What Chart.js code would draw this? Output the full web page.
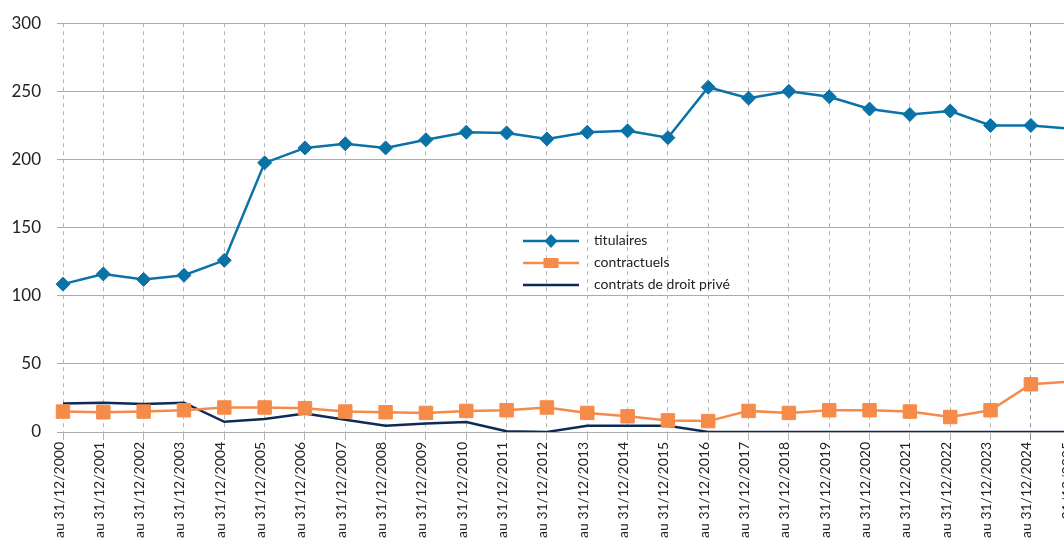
<!DOCTYPE html>
<html><head><meta charset="utf-8">
<script src="https://cdn.jsdelivr.net/npm/chart.js@4.4.1/dist/chart.umd.min.js"></script>
<style>
html,body{margin:0;padding:0;overflow:hidden;background:#fff;width:1064px;height:540px}
#wrap{width:1090px;height:543px;position:relative;margin-top:-3px}
</style>
</head><body><div id="wrap"><canvas id="c" width="1090" height="543"></canvas></div>
<script>
const categories = ["au 31/12/2000","au 31/12/2001","au 31/12/2002","au 31/12/2003","au 31/12/2004","au 31/12/2005","au 31/12/2006","au 31/12/2007","au 31/12/2008","au 31/12/2009","au 31/12/2010","au 31/12/2011","au 31/12/2012","au 31/12/2013","au 31/12/2014","au 31/12/2015","au 31/12/2016","au 31/12/2017","au 31/12/2018","au 31/12/2019","au 31/12/2020","au 31/12/2021","au 31/12/2022","au 31/12/2023","au 31/12/2024","au 31/12/2025"];
const titulaires   = [108.5,116,112,115,126,197.5,208.5,211.5,208.5,214.5,220,219.5,215,220,221,216,253,245,250,246,237,233,235.5,225,225,222.5];
const contractuels = [15,14.5,15,16,18,18,17.5,15,14.5,14,15.5,16,18,14,11.5,8.5,8,15.5,14,16,16,15,11,16,35,37];
const droitPrive   = [21,21.5,20.5,21.5,7.5,9.5,13.5,9,4.6,6.3,7.3,0.5,0,4.6,4.6,4.6,0,0,0,0,0,0,0,0,0,0];
const yTickValues  = [0,50,100,150,200,250,300];
const seriesNames  = ["titulaires","contractuels","contrats de droit privé"];

const FONT = "Lato, 'Noto Sans', sans-serif";
const C_BLUE = "#0a72a6", C_ORANGE = "#f68b49", C_NAVY = "#0d2b55";

const legendPlugin = {
  id: 'insideLegend',
  afterDraw(chart) {
    const ctx = chart.ctx;
    const x0 = 523, y0 = 244, row = 22, len = 56;
    chart.data.datasets.forEach((ds, i) => {
      const y = y0 + i * row;
      ctx.save();
      ctx.strokeStyle = ds.borderColor;
      ctx.lineWidth = ds.borderWidth;
      ctx.beginPath(); ctx.moveTo(x0, y); ctx.lineTo(x0 + len, y); ctx.stroke();
      ctx.fillStyle = ds.borderColor;
      const cx = x0 + len / 2;
      if (ds.pointStyle === 'rectRot') {
        ctx.beginPath(); ctx.moveTo(cx, y - 7); ctx.lineTo(cx + 6.5, y); ctx.lineTo(cx, y + 7); ctx.lineTo(cx - 6.5, y); ctx.closePath(); ctx.fill();
      } else if (ds.pointStyle === 'rect' && ds.pointRadius > 0) {
        ctx.fillRect(cx - 7.5, y - 5, 15, 10);
      }
      ctx.fillStyle = '#222';
      ctx.font = "14px " + FONT;
      ctx.textBaseline = 'middle';
      ctx.fillText(ds.label, x0 + 71, y - 1);
      ctx.restore();
    });
  }
};

new Chart(document.getElementById('c'), {
  type: 'line',
  data: {
    labels: categories,
    datasets: [
      { label: seriesNames[0], data: titulaires, borderColor: C_BLUE, backgroundColor: C_BLUE, borderWidth: 2.5,
        pointStyle: 'rectRot', pointRadius: 7, pointBorderWidth: 1, pointBackgroundColor: C_BLUE, pointBorderColor: C_BLUE, tension: 0 },
      { label: seriesNames[1], data: contractuels, borderColor: C_ORANGE, backgroundColor: C_ORANGE, borderWidth: 2.5,
        pointStyle: 'rect', pointRadius: 9.5, pointBorderWidth: 1, pointBackgroundColor: C_ORANGE, pointBorderColor: C_ORANGE, tension: 0 },
      { label: seriesNames[2], data: droitPrive, borderColor: C_NAVY, backgroundColor: C_NAVY, borderWidth: 2.5,
        pointStyle: 'rect', pointRadius: 0, tension: 0 }
    ]
  },
  options: {
    responsive: false, animation: false, devicePixelRatio: 1,
    layout: { padding: { top: 19, left: 0, right: 4, bottom: 0 } },
    plugins: { legend: { display: false }, tooltip: { enabled: false } },
    scales: {
      x: {
        type: 'category', offset: false,
        grid: { display: true, color: (c) => c.index === 24 ? '#8f8f8f' : '#b4b4b4', lineWidth: 1, tickLength: 8, drawTicks: true },
        border: { display: false, dash: [4, 4] },
        ticks: { color: '#222', font: { family: FONT, size: 14 }, minRotation: 90, maxRotation: 90, autoSkip: false, padding: 2, labelOffset: -4 },
        afterFit: (s) => { s.height = 108; }
      },
      y: {
        min: 0, max: 300,
        afterBuildTicks: (s) => { s.ticks = yTickValues.map(v => ({ value: v })); },
        grid: { color: '#ababab', lineWidth: 1, tickLength: 6 },
        border: { display: false },
        ticks: { color: '#222', font: { family: FONT, size: 17 }, padding: 16 },
        afterFit: (s) => { s.width = 63; }
      }
    }
  },
  plugins: [legendPlugin]
});
</script>
</body></html>
